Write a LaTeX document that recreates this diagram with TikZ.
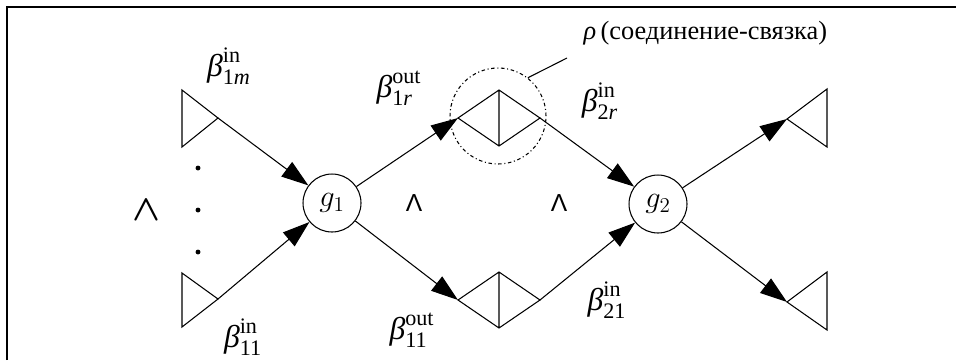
\documentclass[tikz,border=0pt]{standalone}
\usepackage{amsmath}
\usepackage{fontspec}
\setmainfont{Liberation Serif}
\newfontfamily\sansg{Liberation Sans}
\usetikzlibrary{arrows.meta}
\tikzset{
  gatev/.style={circle,draw,minimum size=1.16cm,inner sep=0pt,font=\fontsize{17}{19}\selectfont},
  linkcirc/.style={circle,draw,minimum size=1.92cm,inner sep=0pt,
    dash pattern=on 2pt off 1.5pt on 0.6pt off 1.5pt},
  flowArrow/.style={-{Triangle[length=5.4mm,width=3.6mm]}},
  betalbl/.style={font=\fontsize{18}{20}\selectfont,inner sep=0pt},
  andmark/.style={font=\sansg\fontsize{14}{16}\selectfont,inner sep=0pt}
}
\newcommand{\bsym}[1]{$\text{\itshape β}^{\text{in}}_{\text{#1}}$}
\newcommand{\bout}[1]{$\text{\itshape β}^{\text{out}}_{\text{#1}}$}

\begin{document}
\begin{tikzpicture}[x=0.02cm,y=-0.02cm,line width=0.6pt]
  \useasboundingbox (0,0) rectangle (956,360);
  \draw (7,360) -- (7,7) -- (956,7);

  % inputs of g1
  \coordinate (in1m) at (218,118);
  \coordinate (in11) at (218,299);
  \draw (in1m) -- ++(-36,-28) -- ++(0,57) -- cycle;
  \draw (in11) -- ++(-36,-26) -- ++(0,54) -- cycle;
  \foreach \y in {168,210,252} \fill (198,\y) circle (1.4pt);
  \node[font=\fontsize{20}{22}\selectfont\boldmath,inner sep=0pt] (andL) at (146,210) {$\wedge$};

  \node[gatev] (g1) at (332,203) {$g_1$};
  \node[gatev] (g2) at (658,204) {$g_2$};

  % connection diamonds
  \coordinate (dUl) at (458,118);
  \coordinate (dUr) at (540,118);
  \coordinate (dLl) at (458,300);
  \coordinate (dLr) at (540,300);
  \draw (dUl) -- (499,90) -- (dUr) -- (499,146) -- cycle (499,90) -- (499,146);
  \draw (dLl) -- (499,272) -- (dLr) -- (499,328) -- cycle (499,272) -- (499,328);

  % outputs of g2
  \coordinate (out1) at (787,119);
  \coordinate (out2) at (787,302);
  \draw (out1) -- ++(40,-30) -- ++(0,58) -- cycle;
  \draw (out2) -- ++(40,-30) -- ++(0,58) -- cycle;

  \draw[flowArrow] (in1m) -- (g1);
  \draw[flowArrow] (in11) -- (g1);
  \draw[flowArrow] (g1) -- (dUl);
  \draw[flowArrow] (g1) -- (dLl);
  \draw[flowArrow] (dUr) -- (g2);
  \draw[flowArrow] (dLr) -- (g2);
  \draw[flowArrow] (g2) -- (out1);
  \draw[flowArrow] (g2) -- (out2);

  \node[andmark] (and1) at (414,203) {Λ};
  \node[andmark] (and2) at (559,203) {Λ};

  % rho
  \node[linkcirc] (rho) at (498,116) {};
  \coordinate (rhoEnd) at (567,58);
  \draw (rho.52) -- (rhoEnd);
  \node[font=\fontsize{15}{17}\selectfont,inner sep=0pt,anchor=west] (rhoLbl) at (583,33)
    {\textit{ρ}\,(соединение-связка)};

  \node[betalbl] (b1m) at (229,66) {\bsym{1\itshape m}};
  \node[betalbl] (b11) at (243,337) {\bsym{11}};
  \node[betalbl] (o1r) at (399,88) {\bout{1\itshape r}};
  \node[betalbl] (o11) at (412,330) {\bout{11}};
  \node[betalbl] (b2r) at (600,101) {\bsym{2\itshape r}};
  \node[betalbl] (b21) at (607,300) {\bsym{21}};
\end{tikzpicture}
\end{document}
